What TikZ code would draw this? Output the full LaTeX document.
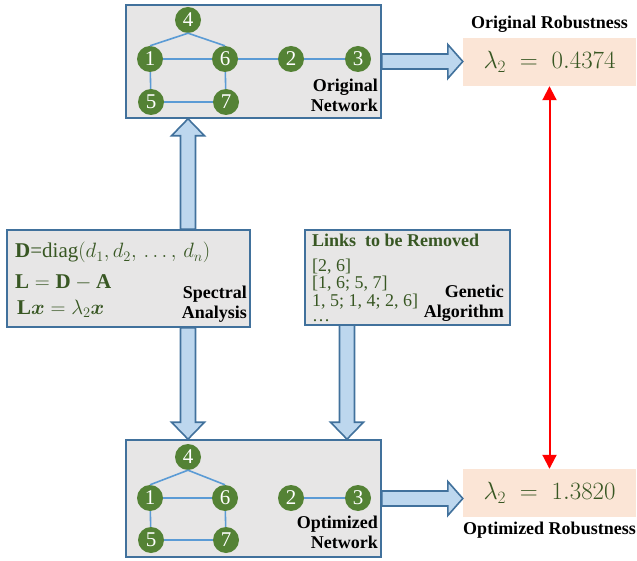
\documentclass[tikz,border=0pt]{standalone}
\usepackage{amsmath}
\usepackage{fontspec}
\setmainfont{Liberation Serif}
\usetikzlibrary{arrows.meta,calc}

\definecolor{boxgray}{HTML}{E7E6E6}
\definecolor{boxblue}{HTML}{41719C}
\definecolor{arrfill}{HTML}{BDD7EE}
\definecolor{nodegreen}{HTML}{548235}
\definecolor{txtgreen}{HTML}{385723}
\definecolor{edgeblue}{HTML}{5B9BD5}
\definecolor{peach}{HTML}{FBE5D6}

\tikzset{
  panel/.style={draw=boxblue, fill=boxgray, line width=1.6pt, inner sep=0},
  vx/.style={circle, fill=nodegreen, text=white, minimum size=26pt, inner sep=0,
             font=\fontsize{21}{21}\selectfont},
  link/.style={draw=edgeblue, line width=1.6pt},
  barrow/.style={draw=boxblue, fill=arrfill, line width=1.6pt, line join=miter},
  tag/.style={font=\fontsize{18}{20}\selectfont\bfseries, align=right, inner sep=0},
  resbox/.style={fill=peach, inner sep=0, minimum width=173pt, minimum height=48pt,
                 text=txtgreen, font=\fontsize{25}{30}\selectfont},
  eq/.style={text=txtgreen, font=\fontsize{21}{24}\selectfont, inner sep=0, anchor=base west},
  rm/.style={text=txtgreen, font=\fontsize{18}{18}\selectfont, inner sep=0, anchor=base west},
  redarrow/.style={draw=red, line width=2pt,
    {Triangle[length=14pt,width=14pt]}-{Triangle[length=14pt,width=14pt]}},
}

% wide arrow pointing right, from #1 to the x of #2
\newcommand\rblock[2]{%
  \draw[barrow] let \p1=#1, \p2=#2 in
    ({\x1},{\y1+7.5pt}) -- ({\x2-15pt},{\y1+7.5pt}) -- ({\x2-15pt},{\y1+17pt}) -- ({\x2},{\y1})
    -- ({\x2-15pt},{\y1-17pt}) -- ({\x2-15pt},{\y1-7.5pt}) -- ({\x1},{\y1-7.5pt}) -- cycle;}
% wide vertical arrow, from #1 with its tip at #2
\newcommand\vblock[2]{%
  \draw[barrow] let \p1=#1, \p2=#2, \n1={(\y2-\y1)/abs(\y2-\y1)} in
    ({\x1-7.5pt},{\y1}) -- ({\x1-7.5pt},{\y2-(\n1)*17pt}) -- ({\x1-16.5pt},{\y2-(\n1)*17pt})
    -- ({\x1},{\y2}) -- ({\x1+16.5pt},{\y2-(\n1)*17pt}) -- ({\x1+7.5pt},{\y2-(\n1)*17pt})
    -- ({\x1+7.5pt},{\y1}) -- cycle;}

\begin{document}
\begin{tikzpicture}[x=1pt, y=-1pt]
\useasboundingbox (0,0) rectangle (637,561);

% panels
\node[panel, minimum width=255pt, minimum height=113pt] (topbox) at (253.5,61.5) {};
\node[panel, minimum width=255pt, minimum height=117pt] (botbox) at (253.5,498.5) {};
\node[panel, minimum width=243pt, minimum height=97pt] (leftbox) at (128.5,278.5) {};
\node[panel, minimum width=205pt, minimum height=95pt] (rightbox) at (407.5,277.5) {};

% result boxes
\node[resbox] (lamtop) at (549.5,62) {$\lambda_2 \;=\; 0.4374$};
\node[resbox] (lambot) at (549.5,493) {$\lambda_2 \;=\; 1.3820$};
\node[tag, anchor=south] (lamtoplbl) at ($(lamtop.north)+(0,-5)$) {Original Robustness};
\node[tag, anchor=north] (lambotlbl) at ($(lambot.south)+(0,5)$) {Optimized Robustness};

% original network
\node[vx] (n4) at (188,20) {4};
\node[vx] (n1) at (150,59) {1};
\node[vx] (n6) at (225,59) {6};
\node[vx] (n2) at (291,59) {2};
\node[vx] (n3) at (358,59) {3};
\node[vx] (n5) at (151,102) {5};
\node[vx] (n7) at (226,102) {7};
\draw[link] (n4.south) -- (n1.north);
\draw[link] (n4.south) -- (n6.north);
\draw[link] (n1) -- (n6);
\draw[link] (n6) -- (n2);
\draw[link] (n2) -- (n3);
\draw[link] (n1) -- (n5);
\draw[link] (n6) -- (n7);
\draw[link] (n5) -- (n7);
\node[tag, anchor=south east] (toplbl) at (378,112) {Original\\Network};

% optimized network
\node[vx] (m4) at (188,457) {4};
\node[vx] (m1) at (150,498) {1};
\node[vx] (m6) at (225,498) {6};
\node[vx] (m2) at (291,498) {2};
\node[vx] (m3) at (358,498) {3};
\node[vx] (m5) at (151,540) {5};
\node[vx] (m7) at (226,540) {7};
\draw[link] (m4.south) -- (m1.north);
\draw[link] (m4.south) -- (m6.north);
\draw[link] (m1) -- (m6);
\draw[link] (m2) -- (m3);
\draw[link] (m1) -- (m5);
\draw[link] (m6) -- (m7);
\draw[link] (m5) -- (m7);
\node[tag, anchor=south east] (botlbl) at (378,549) {Optimized\\Network};

% spectral analysis panel
\node[eq] (eqD) at (15,258) {$\mathbf{D}\text{=diag}(d_1,d_2,\, \ldots,\, d_n)$};
\node[eq] (eqL) at (15,288) {$\mathbf{L} = \mathbf{D} - \mathbf{A}$};
\node[eq] (eqLx) at (17,314) {$\mathbf{L}\boldsymbol{x} = \lambda_2\boldsymbol{x}$};
\node[tag, anchor=south east] (speclbl) at (247,323) {Spectral\\Analysis};

% genetic algorithm panel
\node[rm, font=\fontsize{18}{18}\selectfont\bfseries] (rmhead) at (312,247) {Links\ \ to be Removed};
\node[rm] (rm1) at (312,272) {[2, 6]};
\node[rm] (rm2) at (312,289) {[1, 6; 5, 7]};
\node[rm] (rm3) at (312,306) {1, 5; 1, 4; 2, 6]};
\node[rm] (rm4) at (312,321) {\ldots};
\node[tag, anchor=south east] (galbl) at (504,322) {Genetic\\Algorithm};

% flow arrows
\coordinate (gaout) at (347,325);
\vblock{(n4.south |- leftbox.north)}{(n4.south |- topbox.south)}
\vblock{(n4.south |- leftbox.south)}{(m4.north |- botbox.north)}
\vblock{(gaout)}{(gaout |- botbox.north)}
\rblock{(topbox.east)}{(lamtop.west)}
\rblock{(botbox.east)}{(lambot.west |- botbox.east)}
\draw[redarrow] (lamtop.south) -- (lambot.north);
\end{tikzpicture}
\end{document}
